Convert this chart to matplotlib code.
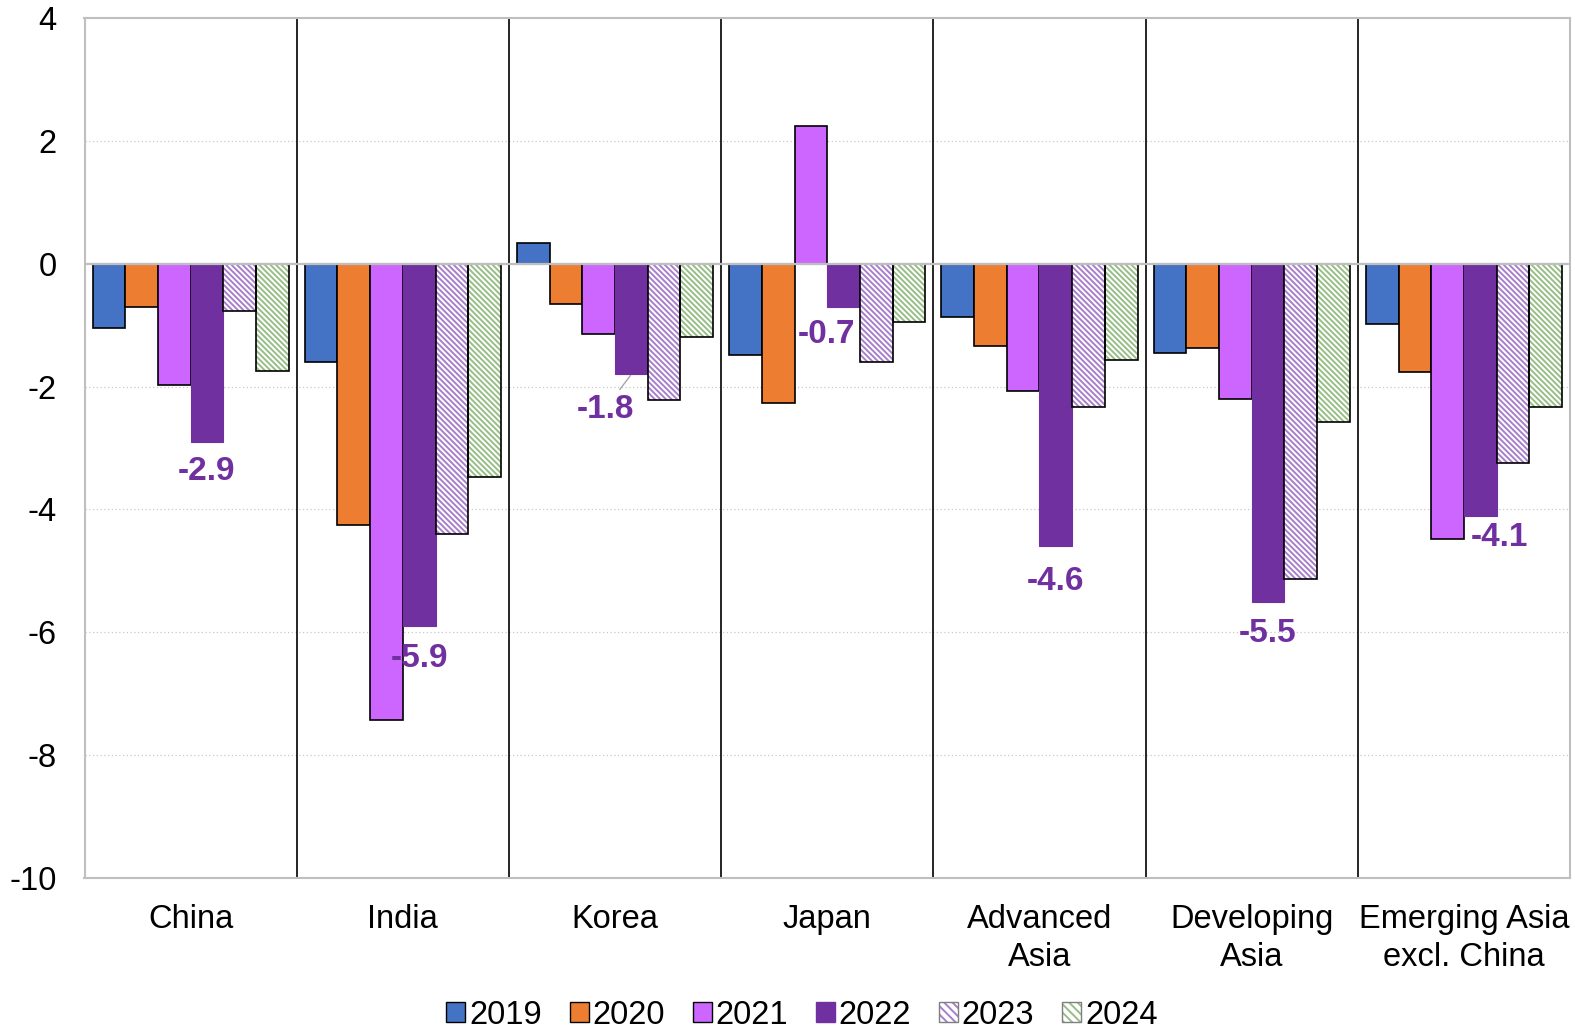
import matplotlib
matplotlib.use("Agg")
import matplotlib.pyplot as plt
from matplotlib.patches import Patch
import numpy as np

plt.rcParams['font.family'] = ['Liberation Sans', 'DejaVu Sans']
plt.rcParams['hatch.linewidth'] = 1.4
plt.rcParams['axes.unicode_minus'] = False

categories = ["China", "India", "Korea", "Japan", "Advanced\nAsia",
              "Developing\nAsia", "Emerging Asia\nexcl. China"]
years = ["2019", "2020", "2021", "2022", "2023", "2024"]

v2019 = [-1.05, -1.6, 0.33, -1.49, -0.87, -1.46, -0.98]
v2020 = [-0.7, -4.25, -0.65, -2.26, -1.34, -1.37, -1.77]
v2021 = [-1.98, -7.43, -1.15, 2.24, -2.08, -2.21, -4.48]
v2022 = [-2.9, -5.9, -1.8, -0.7, -4.6, -5.5, -4.1]
v2023 = [-0.77, -4.4, -2.22, -1.6, -2.34, -5.14, -3.24]
v2024 = [-1.75, -3.47, -1.2, -0.95, -1.57, -2.57, -2.34]
series = [v2019, v2020, v2021, v2022, v2023, v2024]

colors = ["#4472C4", "#ED7D31", "#CC66FF", "#7030A0", "#A77FCB", "#97BE86"]
hatched = [False, False, False, False, True, True]
label_color = "#7030A0"

# Label offsets (points) for the 2022 values
label_offsets = [(0, -21), (0, -23), (-19, -25), (-12, -20), (0, -25), (0, -23), (14, -16)]

W, H = 1575, 1033
fig = plt.figure(figsize=(W / 100, H / 100), dpi=100)
left, right, top, bottom = 84.5, 1570, 18, 878
ax = fig.add_axes([left / W, 1 - bottom / H, (right - left) / W, (bottom - top) / H])

n = len(categories)
x = np.arange(n)
w = 0.154
for i, (vals, c, h) in enumerate(zip(series, colors, hatched)):
    pos = x + (i - 2.5) * w
    if h:
        ax.bar(pos, vals, w, facecolor="white", edgecolor=c, hatch="\\\\\\\\\\\\",
               linewidth=0, zorder=2)
        ax.bar(pos, vals, w, fill=False, edgecolor="black", linewidth=1.2, zorder=2.5)
    elif years[i] == "2022":
        ax.bar(pos, vals, w, color=c, edgecolor=c, linewidth=0.8, zorder=2)
    else:
        ax.bar(pos, vals, w, color=c, edgecolor="black", linewidth=1.2, zorder=2)

# 2022 value labels
for j, val in enumerate(v2022):
    bx = x[j] + 0.5 * w
    dx, dy = label_offsets[j]
    kw = {}
    if categories[j] == "Korea":
        kw["arrowprops"] = dict(arrowstyle="-", color="#A6A6A6", lw=1.0,
                                shrinkA=1, shrinkB=1)
    ax.annotate(f"{val:.1f}", xy=(bx, val), xytext=(dx, dy), textcoords="offset points",
                ha="center", va="center", fontsize=24, fontweight="bold",
                color=label_color, zorder=5, **kw)

ax.set_xlim(-0.5, n - 0.5)
ax.set_ylim(-10, 4)
ax.set_yticks(np.arange(-10, 5, 2))
ax.set_xticks(x)
ax.set_xticklabels(categories, fontsize=23.5, linespacing=1.3)
ax.tick_params(axis="y", length=0, labelsize=23.5, pad=20)
ax.tick_params(axis="x", length=0, pad=18.5)

for yv in [-8, -6, -4, -2, 2]:
    ax.axhline(yv, color="#C8C8C8", linestyle=(0, (1, 2)), linewidth=0.9, zorder=0)
ax.axhline(0, color="#BFBFBF", linewidth=1.6, zorder=3)

for b in np.arange(0.5, n - 1, 1.0):
    ax.axvline(b, color="black", linewidth=1.2, zorder=1)

for s in ax.spines.values():
    s.set_color("#BFBFBF")
    s.set_linewidth(1.5)

handles = []
for i, (c, h) in enumerate(zip(colors, hatched)):
    if h:
        handles.append((Patch(facecolor="white", edgecolor=c, hatch="\\\\\\\\", linewidth=0),
                        Patch(fill=False, edgecolor="#7F7F7F", linewidth=1.0)))
    elif years[i] == "2022":
        handles.append(Patch(facecolor=c, edgecolor=c))
    else:
        handles.append(Patch(facecolor=c, edgecolor="black", linewidth=1.0))

fig.legend(handles, years, loc="center", bbox_to_anchor=(802 / W, 1 - 1015 / H),
           ncol=6, frameon=False, fontsize=23.5, handlelength=0.58, handleheight=0.58,
           handletextpad=0.12, columnspacing=0.85)

fig.savefig("out.png", dpi=100)
